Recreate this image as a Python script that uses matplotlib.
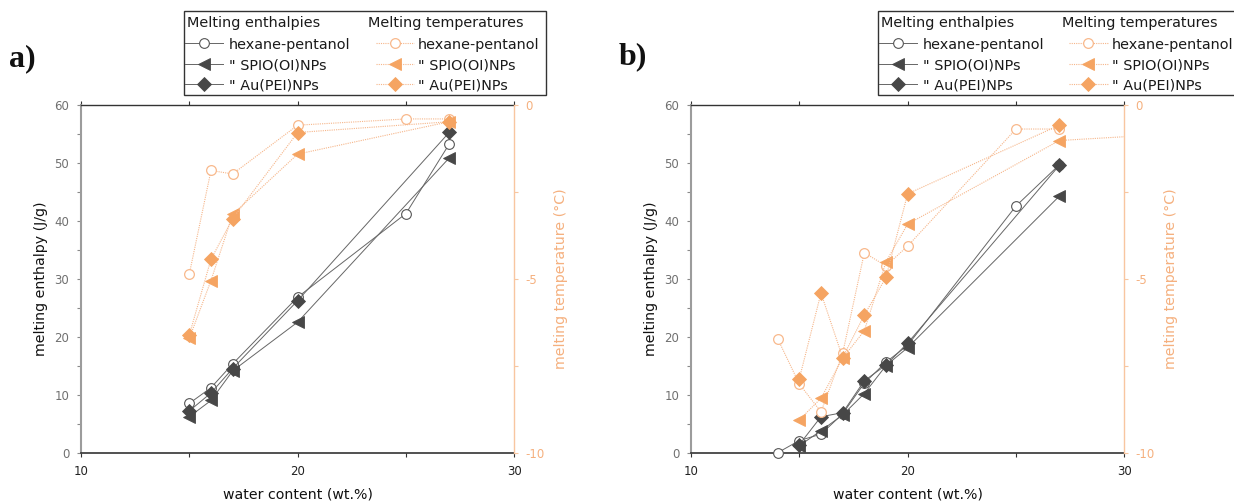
import matplotlib
matplotlib.use("Agg")
import matplotlib.pyplot as plt
from matplotlib.lines import Line2D
from matplotlib.patches import Rectangle
from matplotlib.ticker import MultipleLocator

plt.rcParams['font.family'] = ['DejaVu Sans']
plt.rcParams['axes.unicode_minus'] = False

# ---------------- data ----------------
# panel a
xa_hp = [15, 16, 17, 20, 25, 27]
xa_spio = [15, 16, 17, 20, 27]
xa_au = [15, 16, 17, 20, 27]
Ha_hp = [8.6, 11.3, 15.4, 26.9, 41.3, 53.3]
Ha_spio = [6.3, 9.1, 14.2, 22.6, 50.9]
Ha_au = [7.3, 10.4, 14.6, 26.3, 55.3]
Ta_hp = [-4.85, -1.88, -1.98, -0.58, -0.40, -0.40]
Ta_spio = [-6.70, -5.04, -3.14, -1.41, -0.48]
Ta_au = [-6.60, -4.43, -3.26, -0.79, -0.48]

# panel b
xb_hp = [14, 15, 16, 17, 18, 19, 20, 25, 27]
xb_spio = [15, 16, 17, 18, 19, 20, 27]
xb_au = [15, 16, 17, 18, 19, 20, 27]
Hb_hp = [0.1, 2.2, 3.3, 6.8, 12.1, 15.7, 18.6, 42.6, 49.7]
Hb_spio = [1.3, 3.9, 6.6, 10.3, 15.1, 18.2, 44.3]
Hb_au = [1.5, 6.3, 7.0, 12.5, 15.2, 19.0, 49.6]
xb_spio_T = [15, 16, 17, 18, 19, 20, 27, 35]
Tb_hp = [-6.71, -8.01, -8.81, -7.13, -4.24, -4.62, -4.05, -0.69, -0.69]
Tb_spio = [-9.04, -8.42, -7.27, -6.48, -4.50, -3.42, -1.02, -0.73]
Tb_au = [-7.86, -5.40, -7.25, -6.03, -4.95, -2.55, -0.58]

series_labels = ["hexane-pentanol", "\" SPIO(OI)NPs", "\" Au(PEI)NPs"]
x_ticks = [10, 20, 30]
left_ticks = [0, 10, 20, 30, 40, 50, 60]
right_ticks = [-10, -5, 0]

# ---------------- styles ----------------
DARK = "#474747"
DLINE = "#666666"
ORANGE = "#F5A462"
OLIGHT = "#F8B98C"
OLINE = "#F6B68A"
SPINE_O = "#F8C6A0"

W, H = 1234, 504
fig = plt.figure(figsize=(W / 100, H / 100), dpi=100)


def fx(x):
    return x / W


def fy(y):
    return 1 - y / H


ax_w = 433.3 / W
ax_h = 348.3 / H
ax_b = (H - 453.3) / H

markers = ["o", "<", "D"]
msizes = [7, 8, 7.5]


def dark_style(i):
    if i == 0:
        return dict(marker="o", ms=7, mfc="white", mec="#555555", mew=0.8,
                    color=DLINE, lw=0.7)
    return dict(marker=markers[i], ms=msizes[i], mfc=DARK, mec=DARK, mew=0.6,
                color=DLINE, lw=0.7)


def orange_style(i):
    if i == 0:
        return dict(marker="o", ms=7, mfc="white", mec=OLIGHT, mew=0.9,
                    color=OLINE, lw=0.8, ls=(0, (1, 1)))
    return dict(marker=markers[i], ms=msizes[i], mfc=ORANGE, mec=ORANGE, mew=0.6,
                color=OLINE, lw=0.8, ls=(0, (1, 1)))


def make_panel(left_px, xs, Hs, xT, Ts, letter, letter_pos, extra_clip=None):
    ax = fig.add_axes([fx(left_px), ax_b, ax_w, ax_h])
    tw = ax.twinx()
    ax.set_xlim(10, 30)
    ax.set_ylim(0, 60)
    tw.set_ylim(-10, 0)

    for i in range(3):
        tw.plot(xT[i], Ts[i], clip_on=(extra_clip == i),
                markevery=list(range(len(xs[i]))) if extra_clip == i else None,
                zorder=3, **orange_style(i))
    for i in range(3):
        ax.plot(xs[i], Hs[i], clip_on=False, zorder=3, **dark_style(i))

    ax.set_xticks(x_ticks)
    ax.xaxis.set_minor_locator(MultipleLocator(5))
    ax.set_yticks(left_ticks)
    ax.yaxis.set_minor_locator(MultipleLocator(5))
    tw.set_yticks(right_ticks)
    tw.yaxis.set_minor_locator(MultipleLocator(2.5))

    ax.tick_params(axis="x", which="both", direction="out", top=True,
                   labeltop=False, length=3.2, width=0.8, color="#333333",
                   labelcolor="#222222", labelsize=8.5, pad=5)
    ax.tick_params(axis="y", which="both", direction="out", length=3.0,
                   width=0.8, color="#8a8a8a", labelcolor="#707070",
                   labelsize=8.5, pad=5.5)
    tw.tick_params(axis="y", which="both", direction="out", length=3.0,
                   width=0.8, color=SPINE_O, labelcolor="#F5B07E",
                   labelsize=8.5, pad=5)

    ax.spines["left"].set_color("#9c9c9c")
    ax.spines["left"].set_linewidth(1.5)
    ax.spines["right"].set_visible(False)
    ax.spines["top"].set_color("#333333")
    ax.spines["top"].set_linewidth(1.0)
    ax.spines["bottom"].set_color("#333333")
    ax.spines["bottom"].set_linewidth(1.2)
    for s in ["left", "top", "bottom"]:
        tw.spines[s].set_visible(False)
    tw.spines["right"].set_color(SPINE_O)
    tw.spines["right"].set_linewidth(1.0)

    # axis labels
    off = left_px - 81
    fig.text(fx(41 + off), fy(279), "melting enthalpy (J/g)", rotation=90,
             ha="center", va="center", fontsize=10.2, color="#111111")
    fig.text(fx(561 + off), fy(279), "melting temperature (\u00b0C)", rotation=90,
             ha="center", va="center", fontsize=10.2, color="#F5B07E")
    fig.text(fx(297.7 + off), fy(494), "water content (wt.%)",
             ha="center", va="center", fontsize=10.2, color="#111111")
    fig.text(fx(letter_pos[0]), fy(letter_pos[1]), letter, ha="center", va="center",
             fontsize=23, fontweight="bold", family="Liberation Serif", color="#111111")
    return ax, tw


def draw_legend(L):
    box = Rectangle((fx(L), fy(95)), (362) / W, (95 - 11) / H,
                    transform=fig.transFigure, fill=True, facecolor="white",
                    edgecolor="#333333", lw=1.0, zorder=10)
    fig.add_artist(box)
    fs = 10.4
    fig.text(fx(L + 3.3), fy(26.7), "Melting enthalpies", fontsize=fs,
             va="baseline", ha="left", color="#1a1a1a", zorder=11)
    fig.text(fx(L + 184.3), fy(26.7), "Melting temperatures", fontsize=fs,
             va="baseline", ha="left", color="#1a1a1a", zorder=11)
    row_c = [43.3, 64, 84]
    row_b = [49.3, 69.3, 89.3]
    for i in range(3):
        for col, (h0, h1, tx, st) in enumerate([
                (L + 1, L + 39, L + 45, dark_style(i)),
                (L + 191.5, L + 230, L + 234, orange_style(i))]):
            st = dict(st)
            ln = Line2D([fx(h0), fx((h0 + h1) / 2), fx(h1)],
                        [fy(row_c[i])] * 3, transform=fig.transFigure,
                        markevery=[1], zorder=11, **st)
            fig.add_artist(ln)
            fig.text(fx(tx), fy(row_b[i]), series_labels[i], fontsize=fs,
                     va="baseline", ha="left", color="#1a1a1a", zorder=11)


make_panel(81, [xa_hp, xa_spio, xa_au], [Ha_hp, Ha_spio, Ha_au],
           [xa_hp, xa_spio, xa_au], [Ta_hp, Ta_spio, Ta_au], "a)", (22, 59))
make_panel(691, [xb_hp, xb_spio, xb_au], [Hb_hp, Hb_spio, Hb_au],
           [xb_hp, xb_spio_T, xb_au], [Tb_hp, Tb_spio, Tb_au], "b)", (633, 57),
           extra_clip=1)

draw_legend(184)
draw_legend(877.7)

fig.savefig("out.png", dpi=100)
